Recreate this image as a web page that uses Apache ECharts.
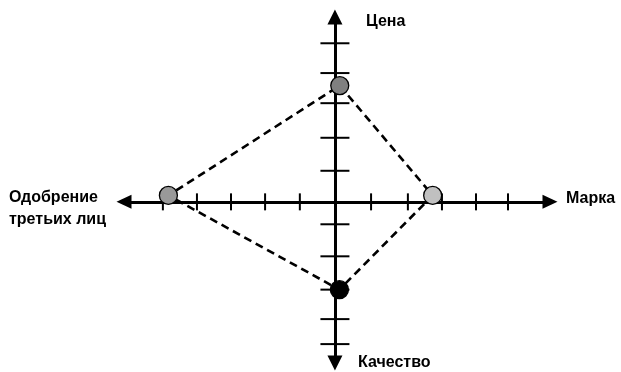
<!DOCTYPE html>
<html><head><meta charset="utf-8">
<script src="https://cdn.jsdelivr.net/npm/echarts@6/dist/echarts.min.js"></script>
<style>html,body{margin:0;padding:0;background:#fff}#c{width:621px;height:372px}</style>
</head><body><div id="c"></div>
<script>
// Axis labels
const labelTop = 'Цена';
const labelRight = 'Марка';
const labelBottom = 'Качество';
const labelLeft = 'Одобрение\nтретьих лиц';
// Points (order: top, right, bottom, left)
const pointNames = ['Цена', 'Марка', 'Качество', 'Одобрение третьих лиц'];
const pointX = [0.14, 2.84, 0.13, -4.84];
const pointY = [3.63, 0.2, -2.74, 0.2];
const pointColors = ['#808080', '#c0c0c0', '#000000', '#999999'];
// Tick positions on the horizontal and vertical axes
const xTicks = [-5.0, -4.01, -3.02, -2.03, -1.02, 1.05, 2.12, 3.11, 4.10, 5.03];
const yTicks = [4.95, 4.02, 3.08, 2.0, 0.97, -0.7, -1.7, -2.74, -3.66, -4.44];

const chart = echarts.init(document.getElementById('c'), null, {renderer: 'canvas'});
const font = 'Liberation Sans';
const linePts = [0, 1, 2, 3, 0].map(i => [pointX[i], pointY[i]]);
const axisLineStyle = {color: '#000', width: 3};
const txt = (t, extra) => Object.assign({text: t, fontSize: 16, fontWeight: 'bold', fontFamily: font, fill: '#000'}, extra || {});
chart.setOption({
  animation: false,
  backgroundColor: '#fff',
  grid: {left: 124, right: 71, top: 17, bottom: 9},
  xAxis: {
    type: 'value', min: -6.13, max: 6.25,
    splitLine: {show: false}, axisTick: {show: false}, axisLabel: {show: false},
    axisLine: {onZero: true, lineStyle: axisLineStyle, symbol: ['triangle', 'triangle'], symbolSize: [14, 15]}
  },
  yAxis: {
    type: 'value', min: -5.03, max: 5.77,
    splitLine: {show: false}, axisTick: {show: false}, axisLabel: {show: false},
    axisLine: {onZero: true, lineStyle: axisLineStyle, symbol: ['triangle', 'triangle'], symbolSize: [15, 15]}
  },
  series: [
    {
      type: 'scatter', name: 'xticks', silent: true, z: 3,
      symbol: 'rect', symbolSize: [2, 17],
      itemStyle: {color: '#000', opacity: 1},
      data: xTicks.map(v => [v, 0])
    },
    {
      type: 'scatter', name: 'yticks', silent: true, z: 3,
      symbol: 'rect', symbolSize: [29, 2],
      itemStyle: {color: '#000', opacity: 1},
      data: yTicks.map(v => [0, v])
    },
    {
      type: 'line', name: 'outline', z: 4, silent: true,
      symbol: 'none',
      lineStyle: {color: '#000', width: 2.6, type: [8, 5]},
      data: linePts
    },
    {
      type: 'scatter', name: 'points', z: 5,
      symbolSize: 18,
      data: pointX.map((x, i) => ({
        name: pointNames[i], value: [x, pointY[i]],
        itemStyle: {color: pointColors[i], borderColor: '#000', borderWidth: 1.3, opacity: 1}
      }))
    }
  ],
  graphic: [
    {type: 'text', left: 366, top: 14, style: txt(labelTop)},
    {type: 'text', left: 566, top: 191, style: txt(labelRight)},
    {type: 'text', left: 358, top: 355, style: txt(labelBottom)},
    {type: 'text', left: 9, top: 187, style: txt(labelLeft, {lineHeight: 22})}
  ]
});
</script></body></html>
